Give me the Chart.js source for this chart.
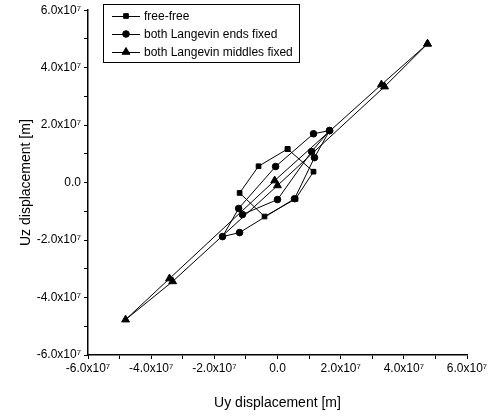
<!DOCTYPE html>
<html>
<head>
<meta charset="utf-8">
<script src="https://cdn.jsdelivr.net/npm/chart.js@4"></script>
<style>
  html, body { margin: 0; padding: 0; background: #fff; }
  #wrap { width: 495px; height: 416px; }
</style>
</head>
<body>
<div id="wrap"><canvas id="loopChart" width="495" height="416"></canvas></div>
<script>
// valores en unidades de 10^7 (como en las etiquetas)
const freeX = [0.32, 1.14, 0.57, -0.41, -1.20, -0.60, 0.32];
const freeY = [1.17, 0.38, -0.57, -1.18, -0.36, 0.57, 1.17];

const endsX = [1.65, 1.14, -0.06, -1.23, -1.74, -1.20, 0.54, 1.17, 1.65, 1.08, 0.00, -1.11];
const endsY = [1.81, 1.70, 0.56, -0.90, -1.88, -1.74, -0.56, 0.87, 1.81, 1.08, -0.59, -1.11];

const midX = [4.75, 3.29, -0.09, -3.42, -4.81, -3.32, 0.00, 3.39, 4.75];
const midY = [4.83, 3.41, 0.07, -3.34, -4.77, -3.44, -0.10, 3.34, 4.83];

const tickValues = [-6, -4, -2, 0, 2, 4, 6];
const seriesNames = ['free-free', 'both Langevin ends fixed', 'both Langevin middles fixed'];
const seriesMarks = ['rect', 'circle', 'triangle'];

const fuente = "'Liberation Sans Narrow', 'Liberation Sans', Arial, sans-serif";

function puntos(xs, ys) {
    return xs.map((x, i) => ({ x: x, y: ys[i] }));
}

function etiqueta(v) {
    if (!tickValues.includes(v)) return '';
    if (v === 0) return '0.0';
    return v.toFixed(1) + 'x10\u2077';
}

// Leyenda dentro del grafico
const leyendaCaja = {
    id: 'leyendaCaja',
    afterDraw(chart) {
        const ctx = chart.ctx;
        const x0 = 103, y0 = 4, w = 196, h = 58;
        ctx.save();
        ctx.strokeStyle = '#000';
        ctx.lineWidth = 1;
        ctx.strokeRect(x0 + 0.5, y0 + 0.5, w, h);
        const filas = [16, 34, 52];
        chart.data.datasets.forEach((ds, i) => {
            const y = filas[i];
            ctx.beginPath();
            ctx.moveTo(112, y + 0.5);
            ctx.lineTo(140, y + 0.5);
            ctx.stroke();
            Chart.helpers.drawPoint(ctx, {
                pointStyle: ds.pointStyle,
                radius: ds.pointRadius,
                borderWidth: 1
            }, 126, y);
            ctx.fillStyle = '#000';
            ctx.font = '12px ' + fuente;
            ctx.textBaseline = 'middle';
            ctx.fillText(ds.label, 144, y + 1);
        });
        ctx.restore();
    }
};

function serie(i, xs, ys) {
    return {
        label: seriesNames[i],
        data: puntos(xs, ys),
        showLine: true,
        borderColor: '#000',
        backgroundColor: '#000',
        borderWidth: 1,
        pointStyle: seriesMarks[i],
        pointRadius: seriesMarks[i] === 'triangle' ? 4.5 : 3.3,
        pointBackgroundColor: '#000',
        pointBorderColor: '#000',
        tension: 0
    };
}

function inicializarGrafico() {
    const ctx = document.getElementById('loopChart').getContext('2d');
    new Chart(ctx, {
        type: 'scatter',
        data: {
            datasets: [
                serie(0, freeX, freeY),
                serie(1, endsX, endsY),
                serie(2, midX, midY)
            ]
        },
        options: {
            responsive: false,
            animation: false,
            layout: { padding: { left: 0, right: 28, top: 10, bottom: 0 } },
            plugins: {
                legend: { display: false },
                tooltip: { enabled: false }
            },
            scales: {
                x: {
                    min: -6, max: 6,
                    afterFit: s => { s.height = 61; },
                    ticks: {
                        stepSize: 1,
                        autoSkip: false,
                        maxRotation: 0,
                        padding: 2,
                        color: '#000',
                        font: { family: fuente, size: 12 },
                        callback: etiqueta
                    },
                    grid: { drawOnChartArea: false, tickLength: 4, color: '#000' },
                    border: { color: '#000', width: 1.5 },
                    title: {
                        display: true,
                        text: 'Uy displacement [m]',
                        color: '#000',
                        font: { family: fuente, size: 14 },
                        padding: { top: 6 }
                    }
                },
                y: {
                    min: -6, max: 6,
                    afterFit: s => { s.width = 88; },
                    ticks: {
                        stepSize: 1,
                        autoSkip: false,
                        padding: 3,
                        color: '#000',
                        font: { family: fuente, size: 12 },
                        callback: etiqueta
                    },
                    grid: { drawOnChartArea: false, tickLength: 4, color: '#000' },
                    border: { color: '#000', width: 1.5 },
                    title: {
                        display: true,
                        text: 'Uz displacement [m]',
                        color: '#000',
                        font: { family: "'Liberation Sans', Arial, sans-serif", size: 14 },
                        padding: { top: 18, bottom: 4 }
                    }
                }
            }
        },
        plugins: [leyendaCaja]
    });
}

document.addEventListener('DOMContentLoaded', () => {
    inicializarGrafico();
});
</script>
</body>
</html>
